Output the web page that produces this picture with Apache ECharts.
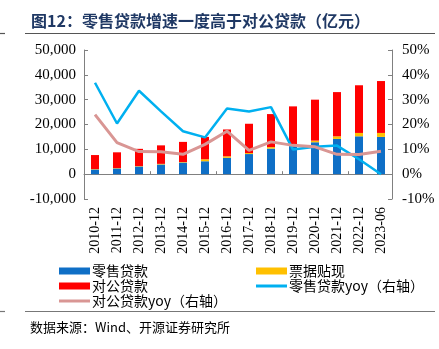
<!DOCTYPE html>
<html><head><meta charset="utf-8">
<script src="https://cdn.jsdelivr.net/npm/echarts@6/dist/echarts.min.js"></script>
<style>html,body{margin:0;padding:0;background:#fff}#c{width:439px;height:349px}</style>
</head><body><div id="c"></div>
<script>
const categories = ['2010-12','2011-12','2012-12','2013-12','2014-12','2015-12','2016-12','2017-12','2018-12','2019-12','2020-12','2021-12','2022-12','2023-06'];
const retailLoans = [1900, 2300, 3100, 3900, 4700, 5200, 6600, 8100, 10300, 11300, 12850, 14200, 15250, 15000];
const billDiscount = [150, 150, 150, 250, 200, 800, 600, 400, 600, 300, 650, 1050, 1350, 1600];
const corporateLoans = [5650, 6350, 6950, 7450, 8100, 9000, 10800, 11800, 13300, 15700, 16500, 17800, 19200, 20900];
const retailYoy = [36.8, 20.4, 33.6, 25.3, 17.3, 14.8, 26.4, 25.2, 27.0, 9.9, 11.0, 11.5, 6.0, 0.0];
const corporateYoy = [24.0, 12.7, 9.1, 9.0, 8.0, 12.0, 17.3, 9.6, 13.0, 11.6, 11.0, 8.0, 7.9, 9.2];
const leftTicks = [-10000, 50000, 10000];
const rightTicks = [-10, 50, 10];

const serif = 'Liberation Serif, Times New Roman, serif';
const cjk = 'Noto Sans CJK SC, sans-serif';
const axisGray = '#808080';

const chart = echarts.init(document.getElementById('c'));
function lg(name, left, top, h, icon) {
  return {
    data: [{name: name, icon: icon}], left: left, top: top,
    itemWidth: 31, itemHeight: h, itemGap: 0,
    textStyle: {fontFamily: cjk, fontSize: 14, color: '#000', padding: [0,0,0,-3]},
    padding: 0, selectedMode: false
  };
}
chart.setOption({
  animation: false,
  title: [
    {text: '图12：零售贷款增速一度高于对公贷款（亿元）', left: 26, top: 8,
     textStyle: {fontFamily: cjk, fontSize: 16, fontWeight: 'bold', color: '#1F3864'}},
    {text: '数据来源：Wind、开源证券研究所', left: 25, top: 316,
     textStyle: {fontFamily: cjk, fontSize: 13, fontWeight: 'normal', color: '#000'}}
  ],
  graphic: [
    {type: 'line', shape: {x1: 25, y1: 33.5, x2: 435, y2: 33.5}, style: {stroke: '#555', lineWidth: 1.2}},
    {type: 'line', shape: {x1: 0, y1: 33.5, x2: 5, y2: 33.5}, style: {stroke: '#555', lineWidth: 1.2}},
    {type: 'line', shape: {x1: 25, y1: 311.5, x2: 435, y2: 311.5}, style: {stroke: '#777', lineWidth: 1.2}},
    {type: 'line', shape: {x1: 0, y1: 311.5, x2: 5, y2: 311.5}, style: {stroke: '#777', lineWidth: 1.2}}
  ],
  legend: [
    lg('零售贷款', 59, 264, 7, 'rect'),
    lg('票据贴现', 256, 264, 7, 'rect'),
    lg('对公贷款', 59, 279, 7, 'rect'),
    lg('零售贷款yoy（右轴）', 256, 279, 3, 'rect'),
    lg('对公贷款yoy（右轴）', 59, 294, 3, 'rect')
  ],
  grid: {left: 84, right: 47, top: 50, bottom: 150, containLabel: false},
  xAxis: [
    {type: 'category', data: categories, gridIndex: 0,
     axisLine: {onZero: true, lineStyle: {color: axisGray, width: 1}},
     axisTick: {show: true, inside: true, length: 3, lineStyle: {color: axisGray}},
     axisLabel: {show: false}},
    {type: 'category', data: categories, gridIndex: 0, position: 'bottom',
     axisLine: {show: false, onZero: false}, axisTick: {show: false},
     axisLabel: {rotate: 90, fontFamily: serif, fontSize: 14, color: '#000', margin: 8, interval: 0}}
  ],
  yAxis: [
    {type: 'value', min: leftTicks[0], max: leftTicks[1], interval: leftTicks[2],
     axisLine: {show: true, lineStyle: {color: axisGray}},
     axisTick: {show: true, inside: true, length: 4, lineStyle: {color: axisGray}},
     splitLine: {show: false},
     axisLabel: {fontFamily: serif, fontSize: 15, color: '#000', margin: 8}},
    {type: 'value', min: rightTicks[0], max: rightTicks[1], interval: rightTicks[2], position: 'right',
     axisLine: {show: true, lineStyle: {color: axisGray}},
     axisTick: {show: true, inside: true, length: 4, lineStyle: {color: axisGray}},
     splitLine: {show: false},
     axisLabel: {fontFamily: serif, fontSize: 15, color: '#000', margin: 10, formatter: '{value}%'}}
  ],
  series: [
    {name: '零售贷款', type: 'bar', stack: 'a', data: retailLoans, barWidth: 8, itemStyle: {color: '#0F6FC6'}},
    {name: '票据贴现', type: 'bar', stack: 'a', data: billDiscount, barWidth: 8, itemStyle: {color: '#FFC000'}},
    {name: '对公贷款', type: 'bar', stack: 'a', data: corporateLoans, barWidth: 8, itemStyle: {color: '#FF0000'}},
    {name: '零售贷款yoy（右轴）', type: 'line', yAxisIndex: 1, data: retailYoy, symbol: 'none',
     lineStyle: {color: '#00B0F0', width: 2.5}, itemStyle: {color: '#00B0F0'}, z: 3},
    {name: '对公贷款yoy（右轴）', type: 'line', yAxisIndex: 1, data: corporateYoy, symbol: 'none',
     lineStyle: {color: '#D99694', width: 3}, itemStyle: {color: '#D99694'}, z: 4}
  ]
});
</script></body></html>
